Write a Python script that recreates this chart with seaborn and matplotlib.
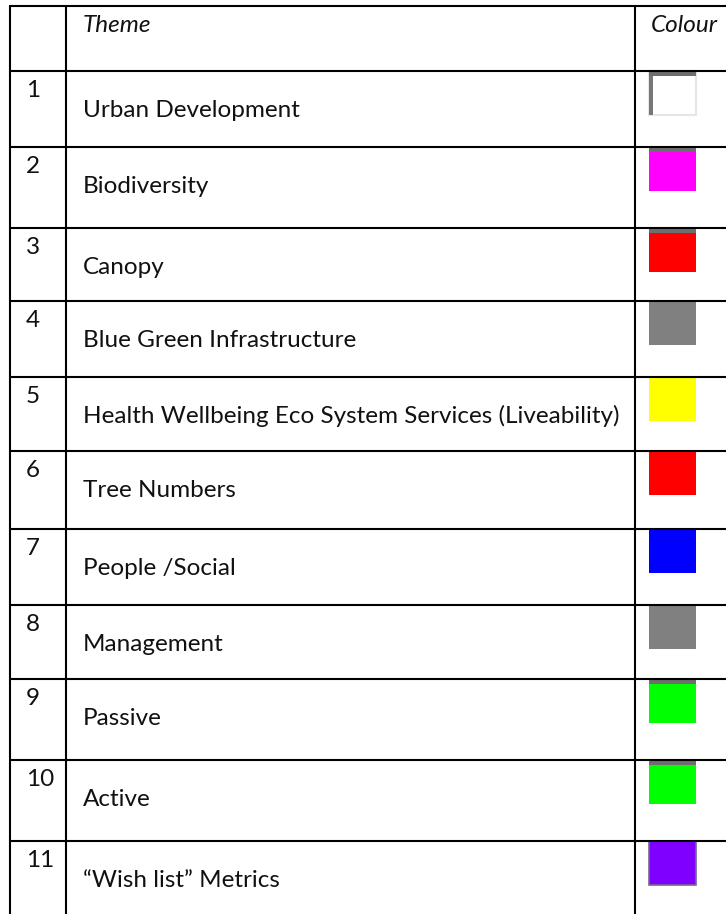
import seaborn as sns
import matplotlib.pyplot as plt

# Table contents
numbers = ["1", "2", "3", "4", "5", "6", "7", "8", "9", "10", "11"]
themes = [
    "Urban Development",
    "Biodiversity",
    "Canopy",
    "Blue Green Infrastructure",
    "Health Wellbeing Eco System Services (Liveability)",
    "Tree Numbers",
    "People /Social",
    "Management",
    "Passive",
    "Active",
    "\u201cWish list\u201d Metrics",
]
colours = [
    "#ffffff", "#ff00ff", "#ff0000", "#808080", "#ffff00", "#ff0000",
    "#0000ff", "#808080", "#00ff00", "#00ff00", "#8000ff",
]
headers = ["", "Theme", "Colour"]

# Layout in pixels (figure is 726 x 914)
W, H = 726, 914
row_lines = [6, 71, 147, 228, 301, 377, 451, 529, 605, 679, 760, 841]
col_lines = [10, 66, 635]
swatch_x, swatch_w, swatch_h = 649, 47, 44
banded = {0, 1, 2, 8, 9}

sns.set_theme(style="white")
plt.rcParams["font.family"] = ["Lato", "DejaVu Sans"]

fig = plt.figure(figsize=(W / 100, H / 100), dpi=100)
ax = fig.add_axes([0, 0, 1, 1])
ax.set_xlim(0, W)
ax.set_ylim(H, 0)
ax.axis("off")

# Grid lines
lw = 1.5
ax.hlines(row_lines, col_lines[0] - 1, W, color="black", lw=lw)
ax.vlines(col_lines, row_lines[0], H, color="black", lw=lw)

# Header
fs = 17.5
ax.text(83, row_lines[0] + 26, headers[1], fontsize=fs, style="italic",
        va="baseline", color="#111111")
ax.text(651, row_lines[0] + 26, headers[2], fontsize=fs, style="italic",
        va="baseline", color="#111111")

# Rows
tops = row_lines[1:]
for i, (num, theme) in enumerate(zip(numbers, themes)):
    top = tops[i]
    ax.text(26, top + 26, num, fontsize=fs, va="baseline", color="#111111")
    ax.text(83, top + 46, theme, fontsize=fs, va="baseline", color="#111111")

# Colour swatches
ax.bar(swatch_x, swatch_h, width=swatch_w, bottom=tops, color=colours,
       align="edge", linewidth=0)

# White swatch: grey shaded frame
ax.bar(swatch_x, swatch_h, width=swatch_w, bottom=tops[0], color="none",
       edgecolor="#e6e6e6", linewidth=1.5, align="edge")
ax.bar(swatch_x, swatch_h, width=4, bottom=tops[0], color="#777777",
       align="edge", linewidth=0)

# Grey band along the top of several swatches
band_rows = [tops[i] for i in sorted(banded)]
ax.bar(swatch_x, 5, width=swatch_w, bottom=band_rows, color="#6e6e6e",
       align="edge", linewidth=0)

# Purple swatch has a soft grey border
ax.bar(swatch_x, swatch_h, width=swatch_w, bottom=tops[10], color="none",
       edgecolor="#77668f", linewidth=1.2, align="edge")

fig.savefig("out.png", dpi=100)
